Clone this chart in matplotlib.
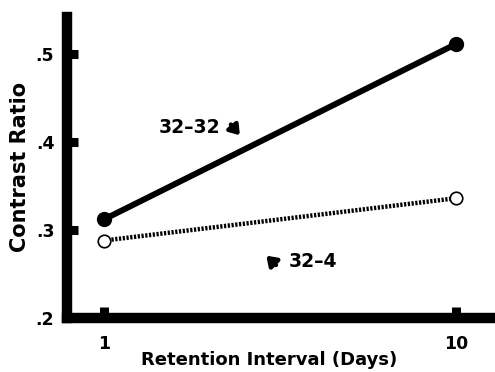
import matplotlib
matplotlib.use("Agg")
import matplotlib.pyplot as plt

days = [1, 10]
ratio_32_32 = [0.312, 0.511]
ratio_32_4 = [0.288, 0.336]
yticks = [0.2, 0.3, 0.4, 0.5]
ytick_labels = [".2", ".3", ".4", ".5"]
xticks = [1, 10]
xtick_labels = ["1", "10"]

plt.rcParams['font.family'] = ['DejaVu Sans']
plt.rcParams['font.weight'] = 'bold'

fig = plt.figure(figsize=(4.95, 3.72), dpi=100)
ax = fig.add_axes([0.135, 0.145, 0.865, 0.81])

ax.plot(days, ratio_32_32, color='black', lw=4.3, solid_capstyle='butt',
        marker='o', ms=10, mfc='black', mec='black', zorder=3)
ax.plot(days, ratio_32_4, color='black', lw=3.2, linestyle=(0, (0.5, 0.35)),
        marker='o', ms=9, mfc='white', mec='black', mew=1.2, zorder=3)

ax.set_xlim(0.05, 11.0)
ax.set_ylim(0.2, 0.542)

for s in ['top', 'right']:
    ax.spines[s].set_visible(False)
for s in ['left', 'bottom']:
    ax.spines[s].set_linewidth(7.5)
    ax.spines[s].set_capstyle('projecting')

ax.set_yticks(yticks)
ax.set_yticklabels(ytick_labels)
ax.set_xticks(xticks)
ax.set_xticklabels(xtick_labels)
ax.tick_params(axis='both', direction='in', length=8, width=6.5, labelsize=12.5, pad=9)
ax.tick_params(axis='x', pad=12)

ax.set_xlabel("Retention Interval (Days)", fontsize=13, fontweight='bold')
ax.xaxis.set_label_coords(0.472, -0.11)
ax.set_ylabel("Contrast Ratio", fontsize=15, fontweight='bold', labelpad=4)

ax.text(3.2, 0.416, "32–32", fontsize=13.5, fontweight='bold', ha='center', va='center')
ax.annotate("", xy=(4.52, 0.405), xytext=(4.2, 0.422),
            arrowprops=dict(arrowstyle='-|>,head_length=0.55,head_width=0.38', lw=3.2, color='black'))
ax.text(6.35, 0.264, "32–4", fontsize=13.5, fontweight='bold', ha='center', va='center')
ax.annotate("", xy=(5.1, 0.273), xytext=(5.45, 0.258),
            arrowprops=dict(arrowstyle='-|>,head_length=0.55,head_width=0.38', lw=3.2, color='black'))

fig.savefig("out.png", dpi=100)
